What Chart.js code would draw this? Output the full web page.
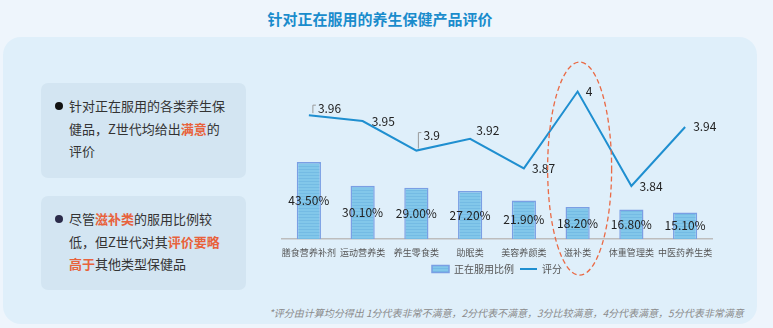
<!DOCTYPE html>
<html>
<head>
<meta charset="utf-8">
<script src="https://cdn.jsdelivr.net/npm/chart.js@4.4.0/dist/chart.umd.min.js"></script>
<style>
    html, body {
        margin: 0;
        padding: 0;
        width: 773px;
        height: 328px;
        overflow: hidden;
        background: #eef5fc;
        font-family: "Noto Sans CJK SC", "Noto Sans", sans-serif;
    }
    .title {
        position: absolute;
        left: 0;
        width: 760px;
        top: 8px;
        text-align: center;
        font-size: 15px;
        font-weight: bold;
        color: #1a8ccc;
    }
    .panel {
        position: absolute;
        left: 3px;
        top: 37px;
        width: 754px;
        height: 287px;
        border-radius: 18px;
        background: #dfeffa;
    }
    .note {
        position: absolute;
        left: 41px;
        width: 205px;
        border-radius: 7px;
        background: #d3e5f2;
        box-sizing: border-box;
        padding: 12px 4px 0 28px;
        font-size: 13px;
        line-height: 22.5px;
        color: #333;
        white-space: nowrap;
    }
    .note::before {
        content: "";
        position: absolute;
        left: 14px;
        top: 19px;
        width: 8px;
        height: 8px;
        border-radius: 50%;
        background: #111;
    }
    .note.second::before {
        background: #2b2b4a;
    }
    .hl {
        color: #e8623c;
        font-weight: bold;
    }
    .footnote {
        position: absolute;
        left: 269px;
        top: 305px;
        font-size: 10px;
        font-style: italic;
        color: #8a8a8a;
        white-space: nowrap;
    }
    #chartBox {
        position: absolute;
        left: 270px;
        top: 50px;
        width: 480px;
        height: 240px;
    }
</style>
</head>
<body>
<div class="title">针对正在服用的养生保健产品评价</div>
<div class="panel"></div>
<div class="note" style="top: 83px; height: 95px;">针对正在服用的各类养生保<br>健品，Z世代均给出<span class="hl">满意</span>的<br>评价</div>
<div class="note second" style="top: 196px; height: 94px;">尽管<span class="hl">滋补类</span>的服用比例较<br>低，但Z世代对其<span class="hl">评价要略</span><br><span class="hl">高于</span>其他类型保健品</div>
<div class="footnote">*评分由计算均分得出 1分代表非常不满意，2分代表不满意，3分比较满意，4分代表满意，5分代表非常满意</div>
<div id="chartBox"><canvas id="chart"></canvas></div>

<script>
// categories and values
const categories = ['膳食营养补剂', '运动营养类', '养生零食类', '助眠类', '美容养颜类', '滋补类', '体重管理类', '中医药养生类'];
const usageShare = [43.5, 30.1, 29.0, 27.2, 21.9, 18.2, 16.8, 15.1];
const ratings = [3.96, 3.95, 3.9, 3.92, 3.87, 4, 3.84, 3.94];
const highlightIndex = 5;

// label placement next to each rating point: [dx, dy, leader]
const ratingLabelOffsets = [[9, -7, true], [9, 0, false], [7, -15, true], [6, -8, false], [8, 0, false], [8, 0, false], [8, 0, false], [8, -1, false]];

const FONT = '"Noto Sans CJK SC", "Noto Sans", sans-serif';

// striped fill used for the bars
function makeBarPattern() {
    const c = document.createElement('canvas');
    c.width = 4;
    c.height = 3;
    const g = c.getContext('2d');
    g.fillStyle = '#82c7ea';
    g.fillRect(0, 0, 4, 3);
    g.fillStyle = '#74bbe4';
    g.fillRect(0, 2, 4, 1);
    return g.createPattern(c, 'repeat');
}

const valueLabels = {
    id: 'valueLabels',
    afterDatasetsDraw(chart) {
        const ctx = chart.ctx;
        const lineMeta = chart.getDatasetMeta(0);
        const barMeta = chart.getDatasetMeta(1);
        ctx.save();
        ctx.font = '12px ' + FONT;
        ctx.fillStyle = '#222';
        ctx.textBaseline = 'middle';

        // percentages in the middle of each bar
        ctx.textAlign = 'center';
        barMeta.data.forEach((bar, i) => {
            const mid = (bar.y + bar.base) / 2;
            ctx.fillText(usageShare[i].toFixed(2) + '%', bar.x, mid);
        });

        // ratings beside the line points
        ctx.textAlign = 'left';
        lineMeta.data.forEach((pt, i) => {
            const [dx, dy, leader] = ratingLabelOffsets[i];
            const x = pt.x + dx;
            const y = pt.y + dy;
            if (leader) {
                ctx.strokeStyle = '#9a9a9a';
                ctx.lineWidth = 1;
                ctx.beginPath();
                ctx.moveTo(x - 5, pt.y - 2);
                ctx.lineTo(x - 5, y - 3);
                ctx.lineTo(x - 2, y - 3);
                ctx.stroke();
            }
            ctx.fillText(String(ratings[i]), x, y);
        });
        ctx.restore();
    }
};

// dashed ellipse around the highlighted category
const highlightRing = {
    id: 'highlightRing',
    afterDraw(chart) {
        const ctx = chart.ctx;
        const x = chart.scales.x.getPixelForValue(highlightIndex);
        const area = chart.chartArea;
        const top = area.top;
        const bottom = area.bottom + 36;
        ctx.save();
        ctx.strokeStyle = '#ea6a45';
        ctx.lineWidth = 1.3;
        ctx.setLineDash([5, 3]);
        ctx.beginPath();
        ctx.ellipse(x + 2, (top + bottom) / 2, 32, (bottom - top) / 2, 0, 0, Math.PI * 2);
        ctx.stroke();
        ctx.restore();
    }
};

const barFill = makeBarPattern();

new Chart(document.getElementById('chart'), {
    data: {
        labels: categories,
        datasets: [
            {
                type: 'line',
                label: '评分',
                data: ratings,
                yAxisID: 'y2',
                borderColor: '#1f8fd0',
                backgroundColor: '#1f8fd0',
                borderWidth: 2,
                pointRadius: 0,
                tension: 0,
                pointStyle: 'line',
                order: 0
            },
            {
                type: 'bar',
                label: '正在服用比例',
                data: usageShare,
                yAxisID: 'y',
                backgroundColor: barFill,
                borderColor: '#7a9fe4',
                borderWidth: 1.5,
                barPercentage: 0.45,
                categoryPercentage: 1,
                pointStyle: 'rect',
                order: 1
            }
        ]
    },
    options: {
        responsive: true,
        maintainAspectRatio: false,
        animation: false,
        layout: {
            padding: { left: 12, right: 38, top: 12, bottom: 6 }
        },
        scales: {
            x: {
                grid: { display: false },
                border: { color: '#bdbdbd', width: 1.5 },
                ticks: {
                    color: '#555',
                    font: { family: FONT, size: 9 },
                    padding: 0,
                    maxRotation: 0,
                    autoSkip: false
                }
            },
            y: {
                display: false,
                min: 0,
                max: 100
            },
            y2: {
                display: false,
                min: 3.75,
                max: 4.05
            }
        },
        plugins: {
            legend: {
                position: 'bottom',
                reverse: true,
                labels: {
                    usePointStyle: true,
                    pointStyleWidth: 17,
                    boxHeight: 7,
                    padding: 6,
                    color: '#555',
                    font: { family: FONT, size: 10 }
                }
            },
            tooltip: { enabled: false }
        }
    },
    plugins: [valueLabels, highlightRing]
});
</script>
</body>
</html>
